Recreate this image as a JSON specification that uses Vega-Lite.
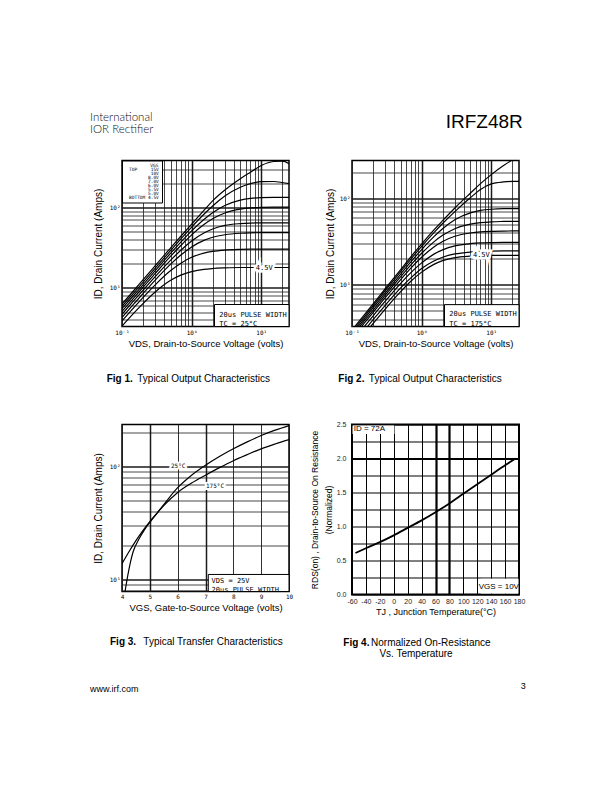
{
  "padding": {"left": 90, "top": 111.5, "right": 5, "bottom": 5},
  "background": "white",
  "title": {"text": "IRFZ48R", "orient": "top", "anchor": "end", "frame": "bounds", "font": "Liberation Sans", "fontSize": 19, "fontWeight": "normal", "color": "black", "dx": -3, "dy": 19.5, "offset": 0},
  "spacing": 34,
  "datasets": {
    "fig1": [
      {"vgs":"15V","v":0.1,"i":6.3},{"vgs":"15V","v":0.15,"i":9.4},{"vgs":"15V","v":0.2,"i":12.6},{"vgs":"15V","v":0.3,"i":18.9},{"vgs":"15V","v":0.5,"i":31.4},{"vgs":"15V","v":0.7,"i":43.9},{"vgs":"15V","v":1,"i":62.3},{"vgs":"15V","v":1.5,"i":92},{"vgs":"15V","v":2,"i":121},{"vgs":"15V","v":3,"i":165},{"vgs":"15V","v":5,"i":228},{"vgs":"15V","v":7,"i":275},{"vgs":"15V","v":10,"i":334},{"vgs":"15V","v":15,"i":374},{"vgs":"15V","v":20,"i":378},{"vgs":"15V","v":25,"i":352},
      {"vgs":"10V","v":0.1,"i":5.9},{"vgs":"10V","v":0.15,"i":8.8},{"vgs":"10V","v":0.2,"i":11.7},{"vgs":"10V","v":0.3,"i":17.6},{"vgs":"10V","v":0.5,"i":29.2},{"vgs":"10V","v":0.7,"i":40.6},{"vgs":"10V","v":1,"i":57.1},{"vgs":"10V","v":1.5,"i":82.4},{"vgs":"10V","v":2,"i":104.5},{"vgs":"10V","v":3,"i":139},{"vgs":"10V","v":5,"i":179},{"vgs":"10V","v":7,"i":198},{"vgs":"10V","v":10,"i":210},{"vgs":"10V","v":15,"i":211},{"vgs":"10V","v":20,"i":205},{"vgs":"10V","v":25,"i":198},
      {"vgs":"8.0V","v":0.1,"i":5.5},{"vgs":"8.0V","v":0.15,"i":8.2},{"vgs":"8.0V","v":0.2,"i":10.9},{"vgs":"8.0V","v":0.3,"i":16.4},{"vgs":"8.0V","v":0.5,"i":27},{"vgs":"8.0V","v":0.7,"i":37.1},{"vgs":"8.0V","v":1,"i":51.1},{"vgs":"8.0V","v":1.5,"i":70.8},{"vgs":"8.0V","v":2,"i":86},{"vgs":"8.0V","v":3,"i":105.8},{"vgs":"8.0V","v":5,"i":123.4},{"vgs":"8.0V","v":7,"i":129.9},{"vgs":"8.0V","v":10,"i":133},{"vgs":"8.0V","v":15,"i":134},{"vgs":"8.0V","v":20,"i":134},{"vgs":"8.0V","v":25,"i":134},
      {"vgs":"7.0V","v":0.1,"i":5.1},{"vgs":"7.0V","v":0.15,"i":7.6},{"vgs":"7.0V","v":0.2,"i":10.15},{"vgs":"7.0V","v":0.3,"i":15.1},{"vgs":"7.0V","v":0.5,"i":24.8},{"vgs":"7.0V","v":0.7,"i":33.7},{"vgs":"7.0V","v":1,"i":45.7},{"vgs":"7.0V","v":1.5,"i":61.4},{"vgs":"7.0V","v":2,"i":72.5},{"vgs":"7.0V","v":3,"i":85.5},{"vgs":"7.0V","v":5,"i":95.5},{"vgs":"7.0V","v":7,"i":99},{"vgs":"7.0V","v":10,"i":100.5},{"vgs":"7.0V","v":15,"i":101},{"vgs":"7.0V","v":20,"i":101},{"vgs":"7.0V","v":25,"i":101},
      {"vgs":"6.0V","v":0.1,"i":4.69},{"vgs":"6.0V","v":0.15,"i":7.01},{"vgs":"6.0V","v":0.2,"i":9.31},{"vgs":"6.0V","v":0.3,"i":13.8},{"vgs":"6.0V","v":0.5,"i":22.1},{"vgs":"6.0V","v":0.7,"i":29.4},{"vgs":"6.0V","v":1,"i":38.3},{"vgs":"6.0V","v":1.5,"i":48.2},{"vgs":"6.0V","v":2,"i":54},{"vgs":"6.0V","v":3,"i":59.8},{"vgs":"6.0V","v":5,"i":63},{"vgs":"6.0V","v":7,"i":64},{"vgs":"6.0V","v":10,"i":64.5},{"vgs":"6.0V","v":15,"i":64.5},{"vgs":"6.0V","v":20,"i":64.5},{"vgs":"6.0V","v":25,"i":64.5},
      {"vgs":"5.5V","v":0.1,"i":4.28},{"vgs":"5.5V","v":0.15,"i":6.39},{"vgs":"5.5V","v":0.2,"i":8.47},{"vgs":"5.5V","v":0.3,"i":12.5},{"vgs":"5.5V","v":0.5,"i":19.7},{"vgs":"5.5V","v":0.7,"i":25.6},{"vgs":"5.5V","v":1,"i":32.3},{"vgs":"5.5V","v":1.5,"i":39},{"vgs":"5.5V","v":2,"i":42.6},{"vgs":"5.5V","v":3,"i":45.8},{"vgs":"5.5V","v":5,"i":47.8},{"vgs":"5.5V","v":7,"i":48.4},{"vgs":"5.5V","v":10,"i":48.7},{"vgs":"5.5V","v":15,"i":48.8},{"vgs":"5.5V","v":20,"i":48.8},{"vgs":"5.5V","v":25,"i":48.8},
      {"vgs":"5.0V","v":0.1,"i":3.87},{"vgs":"5.0V","v":0.15,"i":5.75},{"vgs":"5.0V","v":0.2,"i":7.56},{"vgs":"5.0V","v":0.3,"i":10.9},{"vgs":"5.0V","v":0.5,"i":16.4},{"vgs":"5.0V","v":0.7,"i":20.3},{"vgs":"5.0V","v":1,"i":24},{"vgs":"5.0V","v":1.5,"i":27},{"vgs":"5.0V","v":2,"i":28.4},{"vgs":"5.0V","v":3,"i":29.5},{"vgs":"5.0V","v":5,"i":30.1},{"vgs":"5.0V","v":7,"i":30.3},{"vgs":"5.0V","v":10,"i":30.4},{"vgs":"5.0V","v":15,"i":30.4},{"vgs":"5.0V","v":20,"i":30.4},{"vgs":"5.0V","v":25,"i":30.4},
      {"vgs":"4.5V","v":0.1,"i":3.34},{"vgs":"4.5V","v":0.15,"i":4.91},{"vgs":"4.5V","v":0.2,"i":6.36},{"vgs":"4.5V","v":0.3,"i":8.88},{"vgs":"4.5V","v":0.5,"i":12.4},{"vgs":"4.5V","v":0.7,"i":14.4},{"vgs":"4.5V","v":1,"i":15.9},{"vgs":"4.5V","v":1.5,"i":17},{"vgs":"4.5V","v":2,"i":17.4},{"vgs":"4.5V","v":3,"i":17.7},{"vgs":"4.5V","v":5,"i":17.9},{"vgs":"4.5V","v":7,"i":17.9},{"vgs":"4.5V","v":10,"i":17.9},{"vgs":"4.5V","v":15,"i":17.9},{"vgs":"4.5V","v":20,"i":17.9},{"vgs":"4.5V","v":25,"i":17.9}
    ],
    "fig2": [
      {"vgs":"15V","v":0.1,"i":3.0},{"vgs":"15V","v":0.15,"i":4.5},{"vgs":"15V","v":0.2,"i":6.0},{"vgs":"15V","v":0.3,"i":9.0},{"vgs":"15V","v":0.5,"i":15.0},{"vgs":"15V","v":0.7,"i":21.0},{"vgs":"15V","v":1,"i":29.5},{"vgs":"15V","v":1.5,"i":43},{"vgs":"15V","v":2,"i":55},{"vgs":"15V","v":3,"i":77},{"vgs":"15V","v":5,"i":114},{"vgs":"15V","v":7,"i":147},{"vgs":"15V","v":10,"i":187},{"vgs":"15V","v":15,"i":238},{"vgs":"15V","v":20,"i":275},{"vgs":"15V","v":25,"i":300},
      {"vgs":"10V","v":0.1,"i":2.85},{"vgs":"10V","v":0.15,"i":4.27},{"vgs":"10V","v":0.2,"i":5.7},{"vgs":"10V","v":0.3,"i":8.55},{"vgs":"10V","v":0.5,"i":14.2},{"vgs":"10V","v":0.7,"i":19.8},{"vgs":"10V","v":1,"i":27.8},{"vgs":"10V","v":1.5,"i":40},{"vgs":"10V","v":2,"i":51},{"vgs":"10V","v":3,"i":70},{"vgs":"10V","v":5,"i":101},{"vgs":"10V","v":7,"i":126},{"vgs":"10V","v":10,"i":146},{"vgs":"10V","v":15,"i":154},{"vgs":"10V","v":20,"i":156},{"vgs":"10V","v":25,"i":156},
      {"vgs":"8.0V","v":0.1,"i":2.7},{"vgs":"8.0V","v":0.15,"i":4.05},{"vgs":"8.0V","v":0.2,"i":5.4},{"vgs":"8.0V","v":0.3,"i":8.06},{"vgs":"8.0V","v":0.5,"i":13.3},{"vgs":"8.0V","v":0.7,"i":18.4},{"vgs":"8.0V","v":1,"i":25.5},{"vgs":"8.0V","v":1.5,"i":35.9},{"vgs":"8.0V","v":2,"i":44.4},{"vgs":"8.0V","v":3,"i":56.2},{"vgs":"8.0V","v":5,"i":67.5},{"vgs":"8.0V","v":7,"i":72.1},{"vgs":"8.0V","v":10,"i":74.5},{"vgs":"8.0V","v":15,"i":75.5},{"vgs":"8.0V","v":20,"i":75.5},{"vgs":"8.0V","v":25,"i":75.5},
      {"vgs":"7.0V","v":0.1,"i":2.55},{"vgs":"7.0V","v":0.15,"i":3.83},{"vgs":"7.0V","v":0.2,"i":5.08},{"vgs":"7.0V","v":0.3,"i":7.58},{"vgs":"7.0V","v":0.5,"i":12.4},{"vgs":"7.0V","v":0.7,"i":17},{"vgs":"7.0V","v":1,"i":23.1},{"vgs":"7.0V","v":1.5,"i":31.3},{"vgs":"7.0V","v":2,"i":37.2},{"vgs":"7.0V","v":3,"i":44.4},{"vgs":"7.0V","v":5,"i":50.1},{"vgs":"7.0V","v":7,"i":52.1},{"vgs":"7.0V","v":10,"i":53.3},{"vgs":"7.0V","v":15,"i":53.8},{"vgs":"7.0V","v":20,"i":54},{"vgs":"7.0V","v":25,"i":54},
      {"vgs":"6.0V","v":0.1,"i":2.4},{"vgs":"6.0V","v":0.15,"i":3.6},{"vgs":"6.0V","v":0.2,"i":4.77},{"vgs":"6.0V","v":0.3,"i":7.1},{"vgs":"6.0V","v":0.5,"i":11.5},{"vgs":"6.0V","v":0.7,"i":15.6},{"vgs":"6.0V","v":1,"i":20.8},{"vgs":"6.0V","v":1.5,"i":27.3},{"vgs":"6.0V","v":2,"i":31.6},{"vgs":"6.0V","v":3,"i":36.3},{"vgs":"6.0V","v":5,"i":39.6},{"vgs":"6.0V","v":7,"i":40.8},{"vgs":"6.0V","v":10,"i":41.4},{"vgs":"6.0V","v":15,"i":41.7},{"vgs":"6.0V","v":20,"i":41.8},{"vgs":"6.0V","v":25,"i":41.8},
      {"vgs":"5.5V","v":0.1,"i":2.2},{"vgs":"5.5V","v":0.15,"i":3.28},{"vgs":"5.5V","v":0.2,"i":4.36},{"vgs":"5.5V","v":0.3,"i":6.46},{"vgs":"5.5V","v":0.5,"i":10.4},{"vgs":"5.5V","v":0.7,"i":13.8},{"vgs":"5.5V","v":1,"i":17.9},{"vgs":"5.5V","v":1.5,"i":22.6},{"vgs":"5.5V","v":2,"i":25.3},{"vgs":"5.5V","v":3,"i":28.1},{"vgs":"5.5V","v":5,"i":29.8},{"vgs":"5.5V","v":7,"i":30.4},{"vgs":"5.5V","v":10,"i":30.7},{"vgs":"5.5V","v":15,"i":30.9},{"vgs":"5.5V","v":20,"i":30.9},{"vgs":"5.5V","v":25,"i":30.9},
      {"vgs":"5.0V","v":0.1,"i":2.0},{"vgs":"5.0V","v":0.15,"i":2.97},{"vgs":"5.0V","v":0.2,"i":3.93},{"vgs":"5.0V","v":0.3,"i":5.8},{"vgs":"5.0V","v":0.5,"i":9.2},{"vgs":"5.0V","v":0.7,"i":12},{"vgs":"5.0V","v":1,"i":15.4},{"vgs":"5.0V","v":1.5,"i":18.8},{"vgs":"5.0V","v":2,"i":20.8},{"vgs":"5.0V","v":3,"i":22.7},{"vgs":"5.0V","v":5,"i":23.9},{"vgs":"5.0V","v":7,"i":24.3},{"vgs":"5.0V","v":10,"i":24.5},{"vgs":"5.0V","v":15,"i":24.6},{"vgs":"5.0V","v":20,"i":24.6},{"vgs":"5.0V","v":25,"i":24.6},
      {"vgs":"4.5V","v":0.1,"i":1.8},{"vgs":"4.5V","v":0.15,"i":2.68},{"vgs":"4.5V","v":0.2,"i":3.55},{"vgs":"4.5V","v":0.3,"i":5.25},{"vgs":"4.5V","v":0.5,"i":8.34},{"vgs":"4.5V","v":0.7,"i":11},{"vgs":"4.5V","v":1,"i":14},{"vgs":"4.5V","v":1.5,"i":17.2},{"vgs":"4.5V","v":2,"i":19},{"vgs":"4.5V","v":3,"i":20.6},{"vgs":"4.5V","v":5,"i":21.4},{"vgs":"4.5V","v":7,"i":21.7},{"vgs":"4.5V","v":10,"i":21.8},{"vgs":"4.5V","v":15,"i":21.9},{"vgs":"4.5V","v":20,"i":21.9},{"vgs":"4.5V","v":25,"i":21.9}
    ],
    "fig3": [
      {"temp":"25°C","vgs":4,"i":13.7},{"temp":"25°C","vgs":4.25,"i":17.5},{"temp":"25°C","vgs":4.5,"i":22},{"temp":"25°C","vgs":4.75,"i":27},{"temp":"25°C","vgs":5,"i":32.5},{"temp":"25°C","vgs":5.25,"i":38.5},{"temp":"25°C","vgs":5.5,"i":46},{"temp":"25°C","vgs":6,"i":65},{"temp":"25°C","vgs":6.5,"i":84},{"temp":"25°C","vgs":7,"i":103},{"temp":"25°C","vgs":7.5,"i":123},{"temp":"25°C","vgs":8,"i":144},{"temp":"25°C","vgs":8.5,"i":166},{"temp":"25°C","vgs":9,"i":189},{"temp":"25°C","vgs":9.5,"i":211},{"temp":"25°C","vgs":10,"i":232},
      {"temp":"175°C","vgs":4.05,"i":6.0},{"temp":"175°C","vgs":4.11,"i":7.76},{"temp":"175°C","vgs":4.2,"i":10.5},{"temp":"175°C","vgs":4.3,"i":14},{"temp":"175°C","vgs":4.4,"i":17.5},{"temp":"175°C","vgs":4.6,"i":22.5},{"temp":"175°C","vgs":4.8,"i":27.3},{"temp":"175°C","vgs":5,"i":32},{"temp":"175°C","vgs":5.25,"i":38.3},{"temp":"175°C","vgs":5.5,"i":45},{"temp":"175°C","vgs":6,"i":59},{"temp":"175°C","vgs":6.5,"i":71.5},{"temp":"175°C","vgs":7,"i":84},{"temp":"175°C","vgs":7.5,"i":98},{"temp":"175°C","vgs":8,"i":113},{"temp":"175°C","vgs":8.5,"i":128},{"temp":"175°C","vgs":9,"i":144},{"temp":"175°C","vgs":9.5,"i":159},{"temp":"175°C","vgs":10,"i":174}
    ],
    "fig4": [
      {"t":-55,"r":0.61},{"t":-40,"r":0.68},{"t":-20,"r":0.77},{"t":0,"r":0.87},{"t":20,"r":0.98},{"t":40,"r":1.09},{"t":60,"r":1.21},{"t":80,"r":1.34},{"t":100,"r":1.48},{"t":120,"r":1.62},{"t":140,"r":1.76},{"t":160,"r":1.9},{"t":175,"r":2.0}
    ]
  },
  "vconcat": [
    {
      "title": {"text": "International", "subtitle": "IOR Rectifier", "orient": "top", "anchor": "start", "frame": "group", "dx": -32, "offset": 24.5, "font": "Lato", "fontSize": 11.5, "fontWeight": 300, "color": "#111", "subtitleFont": "Lato", "subtitleFontSize": 11.5, "subtitleFontWeight": 300, "subtitleColor": "#111", "subtitlePadding": 0},
      "bounds": "flush",
      "spacing": 63,
      "hconcat": [
        {
          "width": 167, "height": 166,
          "title": {"text": "Fig 1.", "subtitle": "\u200b\u00a0\u00a0\u00a0\u00a0\u00a0\u00a0\u00a0\u00a0\u00a0\u00a0\u00a0Typical Output Characteristics", "orient": "bottom", "anchor": "start", "frame": "group", "dx": -15.3, "offset": 26, "font": "Liberation Sans", "fontSize": 10, "fontWeight": "bold", "color": "black", "subtitleFont": "Liberation Sans", "subtitleFontSize": 10, "subtitleFontWeight": "normal", "subtitleColor": "black", "subtitlePadding": -10},
          "layer": [
            {
              "data": {"name": "fig1"},
              "mark": {"type": "line", "clip": true, "interpolate": "monotone", "strokeWidth": 1.2},
              "encoding": {
                "x": {"field": "v", "type": "quantitative", "scale": {"type": "log", "domain": [0.1, 25], "nice": false},
                  "axis": {"values": [0.1,0.2,0.3,0.4,0.5,0.6,0.7,0.8,0.9,1,2,3,4,5,6,7,8,9,10,20], "tickCount": 100,
                    "labelExpr": "datum.value == 0.1 ? '10⁻¹' : datum.value == 1 ? '10⁰' : datum.value == 10 ? '10¹' : ''",
                    "gridWidth": {"condition": {"test": "datum.value == 1 || datum.value == 10", "value": 1.5}, "value": 0.8},
                    "labelOverlap": false, "labelColor": "black",
                    "labelFont": "DejaVu Sans Mono", "labelFontSize": 6, "labelPadding": 3,
                    "title": "VDS, Drain-to-Source Voltage (volts)", "titleFontSize": 9.5, "titlePadding": 3}},
                "y": {"field": "i", "type": "quantitative", "scale": {"type": "log", "domain": [3.3, 385], "nice": false},
                  "axis": {"values": [4,5,6,7,8,9,10,20,30,40,50,60,70,80,90,100,200,300], "tickCount": 100,
                    "labelExpr": "datum.value == 10 ? '10¹' : datum.value == 100 ? '10²' : ''",
                    "gridWidth": {"condition": {"test": "datum.value == 10 || datum.value == 100", "value": 1.5}, "value": 0.8},
                    "labelOverlap": false, "labelColor": "black",
                    "labelFont": "DejaVu Sans Mono", "labelFontSize": 6, "labelPadding": 2,
                    "title": "ID, Drain Current (Amps)", "titleFontSize": 10, "titlePadding": 6}},
                "color": {"field": "vgs", "type": "nominal",
                  "scale": {"domain": ["15V","10V","8.0V","7.0V","6.0V","5.5V","5.0V","4.5V"], "range": ["black","black","black","black","black","black","black","black"]},
                  "legend": {"orient": "top-left", "offset": 0, "title": "VGS", "titleFont": "DejaVu Sans Mono", "titleFontSize": 4.5, "titleFontWeight": "normal", "titleAnchor": "end", "titlePadding": 0.5, "labelFont": "DejaVu Sans Mono", "labelFontSize": 4.5, "labelOffset": 0, "symbolSize": 0, "symbolStrokeWidth": 0, "symbolOpacity": 0, "rowPadding": -1.3, "padding": 2.5, "fillColor": "white", "strokeColor": "black",
                    "labelExpr": "datum.label == '15V' ? 'TOP\u00a0\u00a0\u00a0\u00a0\u00a015V' : datum.label == '10V' ? '\u200b\u00a0\u00a0\u00a0\u00a0\u00a0\u00a0\u00a0\u00a010V' : datum.label == '4.5V' ? 'BOTTOM\u00a04.5V' : '\u200b\u00a0\u00a0\u00a0\u00a0\u00a0\u00a0\u00a0' + datum.label"}}
              }
            },
            {
              "data": {"values": [{"note": "20us PULSE WIDTH\nTC = 25°C"}]},
              "layer": [
                {"mark": {"type": "rect", "fill": "white", "stroke": "black", "strokeWidth": 1},
                 "encoding": {"x": {"datum": 2.13}, "x2": {"datum": 25}, "y": {"datum": 3.3}, "y2": {"datum": 6.2}}},
                {"mark": {"type": "text", "align": "left", "baseline": "middle", "font": "DejaVu Sans Mono", "fontSize": 7, "lineBreak": "\n", "lineHeight": 9.4, "color": "black"},
                 "encoding": {"x": {"datum": 2.5}, "y": {"datum": 4.65}, "text": {"field": "note"}}}
              ]
            },
            {
              "data": {"values": [{"label": "4.5V"}]},
              "encoding": {"x": {"datum": 11}, "y": {"datum": 17.9}, "text": {"field": "label"}},
              "layer": [
                {"mark": {"type": "text", "font": "DejaVu Sans Mono", "fontSize": 7, "color": "white", "stroke": "white", "strokeWidth": 5}},
                {"mark": {"type": "text", "font": "DejaVu Sans Mono", "fontSize": 7, "color": "black"}}
              ]
            }
          ]
        },
        {
          "width": 167, "height": 166,
          "title": {"text": "Fig 2.", "subtitle": "\u200b\u00a0\u00a0\u00a0\u00a0\u00a0\u00a0\u00a0\u00a0\u00a0\u00a0\u00a0Typical Output Characteristics", "orient": "bottom", "anchor": "start", "frame": "group", "dx": -13.7, "offset": 26, "font": "Liberation Sans", "fontSize": 10, "fontWeight": "bold", "color": "black", "subtitleFont": "Liberation Sans", "subtitleFontSize": 10, "subtitleFontWeight": "normal", "subtitleColor": "black", "subtitlePadding": -10},
          "layer": [
            {
              "data": {"name": "fig2"},
              "mark": {"type": "line", "clip": true, "interpolate": "monotone", "strokeWidth": 1.2},
              "encoding": {
                "x": {"field": "v", "type": "quantitative", "scale": {"type": "log", "domain": [0.1, 25], "nice": false},
                  "axis": {"values": [0.1,0.2,0.3,0.4,0.5,0.6,0.7,0.8,0.9,1,2,3,4,5,6,7,8,9,10,20], "tickCount": 100,
                    "labelExpr": "datum.value == 0.1 ? '10⁻¹' : datum.value == 1 ? '10⁰' : datum.value == 10 ? '10¹' : ''",
                    "gridWidth": {"condition": {"test": "datum.value == 1 || datum.value == 10", "value": 1.5}, "value": 0.8},
                    "labelOverlap": false, "labelColor": "black",
                    "labelFont": "DejaVu Sans Mono", "labelFontSize": 6, "labelPadding": 3,
                    "title": "VDS, Drain-to-Source Voltage (volts)", "titleFontSize": 9.5, "titlePadding": 3}},
                "y": {"field": "i", "type": "quantitative", "scale": {"type": "log", "domain": [3.3, 272], "nice": false},
                  "axis": {"values": [4,5,6,7,8,9,10,20,30,40,50,60,70,80,90,100,200], "tickCount": 100,
                    "labelExpr": "datum.value == 10 ? '10¹' : datum.value == 100 ? '10²' : ''",
                    "gridWidth": {"condition": {"test": "datum.value == 10 || datum.value == 100", "value": 1.5}, "value": 0.8},
                    "labelOverlap": false, "labelColor": "black",
                    "labelFont": "DejaVu Sans Mono", "labelFontSize": 6, "labelPadding": 2,
                    "title": "ID, Drain Current (Amps)", "titleFontSize": 10, "titlePadding": 4}},
                "color": {"field": "vgs", "type": "nominal",
                  "scale": {"domain": ["15V","10V","8.0V","7.0V","6.0V","5.5V","5.0V","4.5V"], "range": ["black","black","black","black","black","black","black","black"]},
                  "legend": {"orient": "top-left", "offset": 0, "title": "VGS", "titleFont": "DejaVu Sans Mono", "titleFontSize": 4.5, "titleFontWeight": "normal", "titleAnchor": "end", "titlePadding": 0.5, "labelFont": "DejaVu Sans Mono", "labelFontSize": 4.5, "labelOffset": 0, "symbolSize": 0, "symbolStrokeWidth": 0, "symbolOpacity": 0, "rowPadding": -1.3, "padding": 2.5, "fillColor": "white", "strokeColor": "black",
                    "labelExpr": "datum.label == '15V' ? 'TOP\u00a0\u00a0\u00a0\u00a0\u00a015V' : datum.label == '10V' ? '\u200b\u00a0\u00a0\u00a0\u00a0\u00a0\u00a0\u00a0\u00a010V' : datum.label == '4.5V' ? 'BOTTOM\u00a04.5V' : '\u200b\u00a0\u00a0\u00a0\u00a0\u00a0\u00a0\u00a0' + datum.label"}}
              }
            },
            {
              "data": {"values": [{"note": "20us PULSE WIDTH\nTC = 175°C"}]},
              "layer": [
                {"mark": {"type": "rect", "fill": "white", "stroke": "black", "strokeWidth": 1},
                 "encoding": {"x": {"datum": 2.13}, "x2": {"datum": 25}, "y": {"datum": 3.3}, "y2": {"datum": 5.9}}},
                {"mark": {"type": "text", "align": "left", "baseline": "middle", "font": "DejaVu Sans Mono", "fontSize": 7, "lineBreak": "\n", "lineHeight": 9.4, "color": "black"},
                 "encoding": {"x": {"datum": 2.5}, "y": {"datum": 4.55}, "text": {"field": "note"}}}
              ]
            },
            {
              "data": {"values": [{"label": "4.5V"}]},
              "encoding": {"x": {"datum": 7.2}, "y": {"datum": 21.8}, "text": {"field": "label"}},
              "layer": [
                {"mark": {"type": "text", "font": "DejaVu Sans Mono", "fontSize": 7, "color": "white", "stroke": "white", "strokeWidth": 5}},
                {"mark": {"type": "text", "font": "DejaVu Sans Mono", "fontSize": 7, "color": "black"}}
              ]
            }
          ]
        }
      ]
    },
    {
      "title": {"text": "3", "orient": "bottom", "anchor": "end", "frame": "bounds", "dx": 0, "dy": -12, "offset": 0, "font": "Liberation Sans", "fontSize": 9, "fontWeight": "normal", "color": "black"},
      "vconcat": [
        {
          "title": {"text": "www.irf.com", "orient": "bottom", "anchor": "start", "frame": "group", "dx": -32, "offset": 25.5, "font": "Liberation Sans", "fontSize": 9, "fontWeight": "normal", "color": "black"},
          "bounds": "flush",
          "spacing": 63,
          "hconcat": [
            {
              "width": 167, "height": 167,
              "title": {"text": "Fig 3.", "subtitle": "\u200b\u00a0\u00a0\u00a0\u00a0\u00a0\u00a0\u00a0\u00a0\u00a0\u00a0\u00a0\u00a0Typical Transfer Characteristics", "orient": "bottom", "anchor": "start", "frame": "group", "dx": -12, "offset": 25, "font": "Liberation Sans", "fontSize": 10, "fontWeight": "bold", "color": "black", "subtitleFont": "Liberation Sans", "subtitleFontSize": 10, "subtitleFontWeight": "normal", "subtitleColor": "black", "subtitlePadding": -10},
              "layer": [
                {
                  "data": {"name": "fig3"},
                  "mark": {"type": "line", "clip": true, "interpolate": "monotone", "strokeWidth": 1.2, "color": "black"},
                  "encoding": {
                    "x": {"field": "vgs", "type": "quantitative", "scale": {"domain": [4, 10], "nice": false, "zero": false},
                      "axis": {"values": [4,5,6,7,8,9,10], "tickCount": 100, "labelExpr": "'' + datum.value",
                        "gridWidth": {"condition": {"test": "datum.value == 5 || datum.value == 7", "value": 1.5}, "value": 0.9}, "labelOverlap": false, "labelColor": "black",
                        "labelFont": "DejaVu Sans Mono", "labelFontSize": 6, "labelPadding": 2,
                        "title": "VGS, Gate-to-Source Voltage (volts)", "titleFontSize": 9.5, "titlePadding": 3}},
                    "y": {"field": "i", "type": "quantitative", "scale": {"type": "log", "domain": [7.76, 237], "nice": false},
                      "axis": {"values": [8,9,10,20,30,40,50,60,70,80,90,100,200], "tickCount": 100,
                        "labelExpr": "datum.value == 10 ? '10¹' : datum.value == 100 ? '10²' : ''",
                        "gridWidth": {"condition": {"test": "datum.value == 10 || datum.value == 100", "value": 1.5}, "value": 0.8},
                        "labelOverlap": false, "labelColor": "black",
                        "labelFont": "DejaVu Sans Mono", "labelFontSize": 6, "labelPadding": 2,
                        "title": "ID, Drain Current (Amps)", "titleFontSize": 10, "titlePadding": 6}},
                    "detail": {"field": "temp", "type": "nominal"}
                  }
                },
                {
                  "data": {"values": [{"note": "VDS = 25V\n20us PULSE WIDTH"}]},
                  "layer": [
                    {"mark": {"type": "rect", "fill": "white", "stroke": "black", "strokeWidth": 1},
                     "encoding": {"x": {"datum": 7.1}, "x2": {"datum": 10}, "y": {"datum": 7.76}, "y2": {"datum": 11}}},
                    {"mark": {"type": "text", "align": "left", "baseline": "middle", "font": "DejaVu Sans Mono", "fontSize": 7, "lineBreak": "\n", "lineHeight": 8.5, "color": "black"},
                     "encoding": {"x": {"datum": 7.22}, "y": {"datum": 9.6}, "text": {"field": "note"}}}
                  ]
                },
                {
                  "data": {"values": [{"label": "25°C"}]},
                  "encoding": {"x": {"datum": 6.02}, "y": {"datum": 102}, "text": {"field": "label"}},
                  "layer": [
                    {"mark": {"type": "text", "font": "DejaVu Sans Mono", "fontSize": 6, "color": "white", "stroke": "white", "strokeWidth": 4}},
                    {"mark": {"type": "text", "font": "DejaVu Sans Mono", "fontSize": 6, "color": "black"}}
                  ]
                },
                {
                  "data": {"values": [{"label": "175°C"}]},
                  "encoding": {"x": {"datum": 7.34}, "y": {"datum": 67}, "text": {"field": "label"}},
                  "layer": [
                    {"mark": {"type": "text", "font": "DejaVu Sans Mono", "fontSize": 6, "color": "white", "stroke": "white", "strokeWidth": 4}},
                    {"mark": {"type": "text", "font": "DejaVu Sans Mono", "fontSize": 6, "color": "black"}}
                  ]
                }
              ]
            },
            {
              "width": 167, "height": 170,
              "view": {"stroke": "black", "strokeWidth": 2},
              "title": {"text": "Fig 4.", "subtitle": ["\u200b\u00a0\u00a0\u00a0\u00a0\u00a0\u00a0\u00a0\u00a0\u00a0\u00a0Normalized On-Resistance", "\u200b\u00a0\u00a0\u00a0\u00a0\u00a0\u00a0\u00a0\u00a0\u00a0\u00a0\u00a0\u00a0\u00a0Vs. Temperature"], "orient": "bottom", "anchor": "start", "frame": "group", "dx": -8.7, "offset": 21, "font": "Liberation Sans", "fontSize": 10, "fontWeight": "bold", "color": "black", "subtitleFont": "Liberation Sans", "subtitleFontSize": 10, "subtitleFontWeight": "normal", "subtitleColor": "black", "subtitlePadding": -10, "subtitleLineHeight": 11.3},
              "layer": [
                {
                  "data": {"name": "fig4"},
                  "mark": {"type": "line", "clip": true, "interpolate": "monotone", "strokeWidth": 1.8, "color": "black"},
                  "encoding": {
                    "x": {"field": "t", "type": "quantitative", "scale": {"domain": [-60, 180], "nice": false, "zero": false},
                      "axis": {"values": [-60,-40,-20,0,20,40,60,80,100,120,140,160,180], "tickCount": 100, "labelExpr": "'' + datum.value",
                        "gridColor": "black", "gridWidth": {"condition": {"test": "datum.value == 60 || datum.value == 80", "value": 2.2}, "value": 1},
                        "labelOverlap": false, "labelFontSize": 7, "labelColor": "#222", "labelPadding": 3,
                        "title": "TJ , Junction Temperature(°C)", "titleFontSize": 9, "titlePadding": 3}},
                    "y": {"field": "r", "type": "quantitative", "scale": {"domain": [0, 2.5], "nice": false},
                      "axis": {"values": [0,0.25,0.5,0.75,1,1.25,1.5,1.75,2,2.25,2.5], "tickCount": 100,
                        "labelExpr": "(datum.value * 2) % 1 == 0 ? format(datum.value, '.1f') : ''",
                        "gridColor": "black", "gridWidth": {"condition": {"test": "datum.value == 2", "value": 2.2}, "value": 1},
                        "labelOverlap": false, "labelFontSize": 7, "labelColor": "#222", "labelPadding": 6,
                        "title": ["RDS(on) , Drain-to-Source On Resistance", "(Normalized)"], "titleFontSize": 8.5, "titleLineHeight": 14, "titlePadding": 3}}
                  }
                },
                {
                  "data": {"values": [{"note": "ID = 72A"}]},
                  "layer": [
                    {"mark": {"type": "rect", "fill": "white"},
                     "encoding": {"x": {"datum": -59.3}, "x2": {"datum": 1}, "y": {"datum": 2.36}, "y2": {"datum": 2.485}}},
                    {"mark": {"type": "text", "align": "left", "baseline": "middle", "fontSize": 8, "color": "black"},
                     "encoding": {"x": {"datum": -57.5}, "y": {"datum": 2.43}, "text": {"field": "note"}}}
                  ]
                },
                {
                  "data": {"values": [{"note": "VGS = 10V"}]},
                  "layer": [
                    {"mark": {"type": "rect", "fill": "white"},
                     "encoding": {"x": {"datum": 125}, "x2": {"datum": 179.3}, "y": {"datum": 0.015}, "y2": {"datum": 0.23}}},
                    {"mark": {"type": "text", "align": "center", "baseline": "middle", "fontSize": 8, "color": "black"},
                     "encoding": {"x": {"datum": 151}, "y": {"datum": 0.107}, "text": {"field": "note"}}}
                  ]
                }
              ]
            }
          ]
        }
      ]
    }
  ],
  "config": {
    "font": "Liberation Sans",
    "view": {"stroke": "black", "strokeWidth": 1.5},
    "axis": {"domain": false, "ticks": false, "grid": true, "gridColor": "#1a1a1a", "gridOpacity": 1, "labelColor": "black", "titleColor": "black", "titleFontWeight": "normal", "titleFont": "Liberation Sans", "labelFlush": false, "labelOverlap": false, "labelBound": false}
  }
}
